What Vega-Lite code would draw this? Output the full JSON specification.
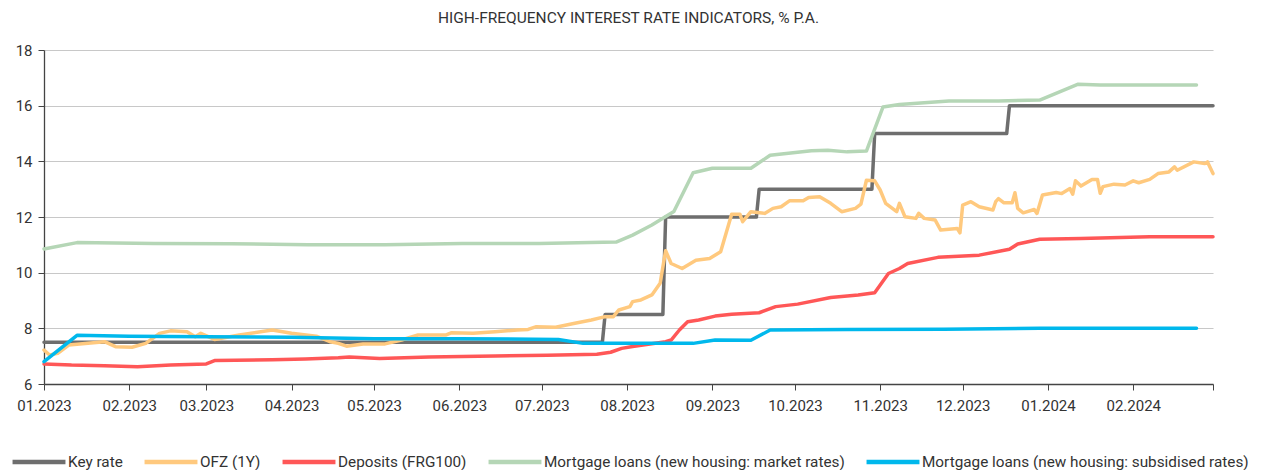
{
  "$schema": "https://vega.github.io/schema/vega-lite/v6.json",
  "width": 1169,
  "height": 334,
  "autosize": {"type": "none"},
  "padding": {"left": 44, "top": 50, "right": 58, "bottom": 86},
  "background": "white",
  "config": {
    "view": {"stroke": null},
    "font": "Roboto"
  },
  "title": {
    "text": "HIGH-FREQUENCY INTEREST RATE INDICATORS, % P.A.",
    "anchor": "middle",
    "fontSize": 15.5,
    "fontWeight": "normal",
    "color": "#333333",
    "font": "Roboto",
    "offset": 17
  },
  "datasets": {
    "rates": [
      {"d": "2023-01-01", "s": "Key rate", "v": 7.5},
      {"d": "2023-07-23", "s": "Key rate", "v": 7.5},
      {"d": "2023-07-24", "s": "Key rate", "v": 8.5},
      {"d": "2023-08-14", "s": "Key rate", "v": 8.5},
      {"d": "2023-08-15", "s": "Key rate", "v": 12},
      {"d": "2023-09-17", "s": "Key rate", "v": 12},
      {"d": "2023-09-18", "s": "Key rate", "v": 13},
      {"d": "2023-10-29", "s": "Key rate", "v": 13},
      {"d": "2023-10-30", "s": "Key rate", "v": 15},
      {"d": "2023-12-17", "s": "Key rate", "v": 15},
      {"d": "2023-12-18", "s": "Key rate", "v": 16},
      {"d": "2024-03-01", "s": "Key rate", "v": 16},

      {"d": "2023-01-01", "s": "OFZ (1Y)", "v": 7.22},
      {"d": "2023-01-03", "s": "OFZ (1Y)", "v": 7.04},
      {"d": "2023-01-06", "s": "OFZ (1Y)", "v": 7.10},
      {"d": "2023-01-10", "s": "OFZ (1Y)", "v": 7.40},
      {"d": "2023-01-17", "s": "OFZ (1Y)", "v": 7.46},
      {"d": "2023-01-23", "s": "OFZ (1Y)", "v": 7.52},
      {"d": "2023-01-27", "s": "OFZ (1Y)", "v": 7.34},
      {"d": "2023-02-02", "s": "OFZ (1Y)", "v": 7.32},
      {"d": "2023-02-07", "s": "OFZ (1Y)", "v": 7.46},
      {"d": "2023-02-12", "s": "OFZ (1Y)", "v": 7.82},
      {"d": "2023-02-16", "s": "OFZ (1Y)", "v": 7.91},
      {"d": "2023-02-22", "s": "OFZ (1Y)", "v": 7.88},
      {"d": "2023-02-25", "s": "OFZ (1Y)", "v": 7.70},
      {"d": "2023-02-27", "s": "OFZ (1Y)", "v": 7.82},
      {"d": "2023-03-04", "s": "OFZ (1Y)", "v": 7.60},
      {"d": "2023-03-13", "s": "OFZ (1Y)", "v": 7.76},
      {"d": "2023-03-25", "s": "OFZ (1Y)", "v": 7.94},
      {"d": "2023-04-01", "s": "OFZ (1Y)", "v": 7.82},
      {"d": "2023-04-10", "s": "OFZ (1Y)", "v": 7.72},
      {"d": "2023-04-15", "s": "OFZ (1Y)", "v": 7.52},
      {"d": "2023-04-18", "s": "OFZ (1Y)", "v": 7.46},
      {"d": "2023-04-21", "s": "OFZ (1Y)", "v": 7.36},
      {"d": "2023-04-27", "s": "OFZ (1Y)", "v": 7.44},
      {"d": "2023-05-05", "s": "OFZ (1Y)", "v": 7.44},
      {"d": "2023-05-11", "s": "OFZ (1Y)", "v": 7.58},
      {"d": "2023-05-17", "s": "OFZ (1Y)", "v": 7.76},
      {"d": "2023-05-27", "s": "OFZ (1Y)", "v": 7.76},
      {"d": "2023-05-29", "s": "OFZ (1Y)", "v": 7.84},
      {"d": "2023-06-06", "s": "OFZ (1Y)", "v": 7.82},
      {"d": "2023-06-14", "s": "OFZ (1Y)", "v": 7.88},
      {"d": "2023-06-22", "s": "OFZ (1Y)", "v": 7.94},
      {"d": "2023-06-26", "s": "OFZ (1Y)", "v": 7.96},
      {"d": "2023-06-29", "s": "OFZ (1Y)", "v": 8.06},
      {"d": "2023-07-06", "s": "OFZ (1Y)", "v": 8.04},
      {"d": "2023-07-13", "s": "OFZ (1Y)", "v": 8.18},
      {"d": "2023-07-19", "s": "OFZ (1Y)", "v": 8.30},
      {"d": "2023-07-24", "s": "OFZ (1Y)", "v": 8.42},
      {"d": "2023-07-27", "s": "OFZ (1Y)", "v": 8.42},
      {"d": "2023-07-29", "s": "OFZ (1Y)", "v": 8.66},
      {"d": "2023-08-02", "s": "OFZ (1Y)", "v": 8.78},
      {"d": "2023-08-03", "s": "OFZ (1Y)", "v": 8.96},
      {"d": "2023-08-06", "s": "OFZ (1Y)", "v": 9.02},
      {"d": "2023-08-10", "s": "OFZ (1Y)", "v": 9.20},
      {"d": "2023-08-13", "s": "OFZ (1Y)", "v": 9.62},
      {"d": "2023-08-15", "s": "OFZ (1Y)", "v": 10.79},
      {"d": "2023-08-17", "s": "OFZ (1Y)", "v": 10.33},
      {"d": "2023-08-21", "s": "OFZ (1Y)", "v": 10.15},
      {"d": "2023-08-26", "s": "OFZ (1Y)", "v": 10.45},
      {"d": "2023-08-31", "s": "OFZ (1Y)", "v": 10.51},
      {"d": "2023-09-04", "s": "OFZ (1Y)", "v": 10.75},
      {"d": "2023-09-08", "s": "OFZ (1Y)", "v": 12.10},
      {"d": "2023-09-11", "s": "OFZ (1Y)", "v": 12.10},
      {"d": "2023-09-12", "s": "OFZ (1Y)", "v": 11.83},
      {"d": "2023-09-15", "s": "OFZ (1Y)", "v": 12.19},
      {"d": "2023-09-20", "s": "OFZ (1Y)", "v": 12.13},
      {"d": "2023-09-23", "s": "OFZ (1Y)", "v": 12.31},
      {"d": "2023-09-26", "s": "OFZ (1Y)", "v": 12.37},
      {"d": "2023-09-29", "s": "OFZ (1Y)", "v": 12.58},
      {"d": "2023-10-04", "s": "OFZ (1Y)", "v": 12.58},
      {"d": "2023-10-06", "s": "OFZ (1Y)", "v": 12.70},
      {"d": "2023-10-10", "s": "OFZ (1Y)", "v": 12.73},
      {"d": "2023-10-14", "s": "OFZ (1Y)", "v": 12.49},
      {"d": "2023-10-18", "s": "OFZ (1Y)", "v": 12.19},
      {"d": "2023-10-23", "s": "OFZ (1Y)", "v": 12.31},
      {"d": "2023-10-25", "s": "OFZ (1Y)", "v": 12.46},
      {"d": "2023-10-27", "s": "OFZ (1Y)", "v": 13.32},
      {"d": "2023-10-30", "s": "OFZ (1Y)", "v": 13.30},
      {"d": "2023-11-01", "s": "OFZ (1Y)", "v": 12.97},
      {"d": "2023-11-03", "s": "OFZ (1Y)", "v": 12.49},
      {"d": "2023-11-07", "s": "OFZ (1Y)", "v": 12.19},
      {"d": "2023-11-08", "s": "OFZ (1Y)", "v": 12.49},
      {"d": "2023-11-10", "s": "OFZ (1Y)", "v": 12.01},
      {"d": "2023-11-14", "s": "OFZ (1Y)", "v": 11.95},
      {"d": "2023-11-15", "s": "OFZ (1Y)", "v": 12.13},
      {"d": "2023-11-17", "s": "OFZ (1Y)", "v": 11.95},
      {"d": "2023-11-21", "s": "OFZ (1Y)", "v": 11.89},
      {"d": "2023-11-23", "s": "OFZ (1Y)", "v": 11.53},
      {"d": "2023-11-29", "s": "OFZ (1Y)", "v": 11.59},
      {"d": "2023-11-30", "s": "OFZ (1Y)", "v": 11.43},
      {"d": "2023-12-01", "s": "OFZ (1Y)", "v": 12.43},
      {"d": "2023-12-04", "s": "OFZ (1Y)", "v": 12.55},
      {"d": "2023-12-07", "s": "OFZ (1Y)", "v": 12.37},
      {"d": "2023-12-12", "s": "OFZ (1Y)", "v": 12.25},
      {"d": "2023-12-13", "s": "OFZ (1Y)", "v": 12.55},
      {"d": "2023-12-14", "s": "OFZ (1Y)", "v": 12.66},
      {"d": "2023-12-16", "s": "OFZ (1Y)", "v": 12.51},
      {"d": "2023-12-19", "s": "OFZ (1Y)", "v": 12.51},
      {"d": "2023-12-20", "s": "OFZ (1Y)", "v": 12.87},
      {"d": "2023-12-21", "s": "OFZ (1Y)", "v": 12.31},
      {"d": "2023-12-23", "s": "OFZ (1Y)", "v": 12.15},
      {"d": "2023-12-27", "s": "OFZ (1Y)", "v": 12.27},
      {"d": "2023-12-28", "s": "OFZ (1Y)", "v": 12.13},
      {"d": "2023-12-30", "s": "OFZ (1Y)", "v": 12.79},
      {"d": "2024-01-04", "s": "OFZ (1Y)", "v": 12.88},
      {"d": "2024-01-06", "s": "OFZ (1Y)", "v": 12.84},
      {"d": "2024-01-09", "s": "OFZ (1Y)", "v": 13.02},
      {"d": "2024-01-10", "s": "OFZ (1Y)", "v": 12.82},
      {"d": "2024-01-11", "s": "OFZ (1Y)", "v": 13.30},
      {"d": "2024-01-13", "s": "OFZ (1Y)", "v": 13.11},
      {"d": "2024-01-17", "s": "OFZ (1Y)", "v": 13.35},
      {"d": "2024-01-19", "s": "OFZ (1Y)", "v": 13.35},
      {"d": "2024-01-20", "s": "OFZ (1Y)", "v": 12.85},
      {"d": "2024-01-21", "s": "OFZ (1Y)", "v": 13.09},
      {"d": "2024-01-25", "s": "OFZ (1Y)", "v": 13.18},
      {"d": "2024-01-29", "s": "OFZ (1Y)", "v": 13.15},
      {"d": "2024-02-01", "s": "OFZ (1Y)", "v": 13.30},
      {"d": "2024-02-03", "s": "OFZ (1Y)", "v": 13.23},
      {"d": "2024-02-07", "s": "OFZ (1Y)", "v": 13.35},
      {"d": "2024-02-10", "s": "OFZ (1Y)", "v": 13.56},
      {"d": "2024-02-14", "s": "OFZ (1Y)", "v": 13.62},
      {"d": "2024-02-16", "s": "OFZ (1Y)", "v": 13.80},
      {"d": "2024-02-17", "s": "OFZ (1Y)", "v": 13.68},
      {"d": "2024-02-23", "s": "OFZ (1Y)", "v": 13.98},
      {"d": "2024-02-27", "s": "OFZ (1Y)", "v": 13.92},
      {"d": "2024-02-28", "s": "OFZ (1Y)", "v": 13.98},
      {"d": "2024-03-01", "s": "OFZ (1Y)", "v": 13.56},

      {"d": "2023-01-01", "s": "Deposits (FRG100)", "v": 6.72},
      {"d": "2023-01-11", "s": "Deposits (FRG100)", "v": 6.68},
      {"d": "2023-01-23", "s": "Deposits (FRG100)", "v": 6.66},
      {"d": "2023-02-04", "s": "Deposits (FRG100)", "v": 6.62},
      {"d": "2023-02-16", "s": "Deposits (FRG100)", "v": 6.68},
      {"d": "2023-03-01", "s": "Deposits (FRG100)", "v": 6.72},
      {"d": "2023-03-04", "s": "Deposits (FRG100)", "v": 6.84},
      {"d": "2023-03-25", "s": "Deposits (FRG100)", "v": 6.87},
      {"d": "2023-04-06", "s": "Deposits (FRG100)", "v": 6.90},
      {"d": "2023-04-18", "s": "Deposits (FRG100)", "v": 6.94},
      {"d": "2023-04-22", "s": "Deposits (FRG100)", "v": 6.97},
      {"d": "2023-05-03", "s": "Deposits (FRG100)", "v": 6.92},
      {"d": "2023-05-21", "s": "Deposits (FRG100)", "v": 6.97},
      {"d": "2023-06-14", "s": "Deposits (FRG100)", "v": 7.01},
      {"d": "2023-07-03", "s": "Deposits (FRG100)", "v": 7.03},
      {"d": "2023-07-21", "s": "Deposits (FRG100)", "v": 7.07},
      {"d": "2023-07-26", "s": "Deposits (FRG100)", "v": 7.14},
      {"d": "2023-07-30", "s": "Deposits (FRG100)", "v": 7.28},
      {"d": "2023-08-03", "s": "Deposits (FRG100)", "v": 7.35},
      {"d": "2023-08-15", "s": "Deposits (FRG100)", "v": 7.52},
      {"d": "2023-08-17", "s": "Deposits (FRG100)", "v": 7.58},
      {"d": "2023-08-20", "s": "Deposits (FRG100)", "v": 7.94},
      {"d": "2023-08-23", "s": "Deposits (FRG100)", "v": 8.24},
      {"d": "2023-08-27", "s": "Deposits (FRG100)", "v": 8.30},
      {"d": "2023-09-02", "s": "Deposits (FRG100)", "v": 8.44},
      {"d": "2023-09-08", "s": "Deposits (FRG100)", "v": 8.51},
      {"d": "2023-09-18", "s": "Deposits (FRG100)", "v": 8.56},
      {"d": "2023-09-24", "s": "Deposits (FRG100)", "v": 8.78},
      {"d": "2023-10-02", "s": "Deposits (FRG100)", "v": 8.87},
      {"d": "2023-10-14", "s": "Deposits (FRG100)", "v": 9.11},
      {"d": "2023-10-24", "s": "Deposits (FRG100)", "v": 9.20},
      {"d": "2023-10-30", "s": "Deposits (FRG100)", "v": 9.28},
      {"d": "2023-11-04", "s": "Deposits (FRG100)", "v": 9.97},
      {"d": "2023-11-08", "s": "Deposits (FRG100)", "v": 10.15},
      {"d": "2023-11-11", "s": "Deposits (FRG100)", "v": 10.33},
      {"d": "2023-11-22", "s": "Deposits (FRG100)", "v": 10.55},
      {"d": "2023-12-07", "s": "Deposits (FRG100)", "v": 10.63},
      {"d": "2023-12-18", "s": "Deposits (FRG100)", "v": 10.84},
      {"d": "2023-12-21", "s": "Deposits (FRG100)", "v": 11.03},
      {"d": "2023-12-29", "s": "Deposits (FRG100)", "v": 11.20},
      {"d": "2024-01-13", "s": "Deposits (FRG100)", "v": 11.23},
      {"d": "2024-02-07", "s": "Deposits (FRG100)", "v": 11.29},
      {"d": "2024-03-01", "s": "Deposits (FRG100)", "v": 11.29},

      {"d": "2023-01-01", "s": "Mortgage loans (new housing: market rates)", "v": 10.85},
      {"d": "2023-01-13", "s": "Mortgage loans (new housing: market rates)", "v": 11.08},
      {"d": "2023-02-10", "s": "Mortgage loans (new housing: market rates)", "v": 11.05},
      {"d": "2023-03-10", "s": "Mortgage loans (new housing: market rates)", "v": 11.04},
      {"d": "2023-04-07", "s": "Mortgage loans (new housing: market rates)", "v": 11.0},
      {"d": "2023-05-05", "s": "Mortgage loans (new housing: market rates)", "v": 11.0},
      {"d": "2023-06-02", "s": "Mortgage loans (new housing: market rates)", "v": 11.05},
      {"d": "2023-06-30", "s": "Mortgage loans (new housing: market rates)", "v": 11.05},
      {"d": "2023-07-28", "s": "Mortgage loans (new housing: market rates)", "v": 11.1},
      {"d": "2023-08-03", "s": "Mortgage loans (new housing: market rates)", "v": 11.35},
      {"d": "2023-08-10", "s": "Mortgage loans (new housing: market rates)", "v": 11.71},
      {"d": "2023-08-18", "s": "Mortgage loans (new housing: market rates)", "v": 12.2},
      {"d": "2023-08-25", "s": "Mortgage loans (new housing: market rates)", "v": 13.59},
      {"d": "2023-09-01", "s": "Mortgage loans (new housing: market rates)", "v": 13.75},
      {"d": "2023-09-15", "s": "Mortgage loans (new housing: market rates)", "v": 13.75},
      {"d": "2023-09-22", "s": "Mortgage loans (new housing: market rates)", "v": 14.22},
      {"d": "2023-10-07", "s": "Mortgage loans (new housing: market rates)", "v": 14.38},
      {"d": "2023-10-13", "s": "Mortgage loans (new housing: market rates)", "v": 14.4},
      {"d": "2023-10-20", "s": "Mortgage loans (new housing: market rates)", "v": 14.34},
      {"d": "2023-10-27", "s": "Mortgage loans (new housing: market rates)", "v": 14.37},
      {"d": "2023-11-02", "s": "Mortgage loans (new housing: market rates)", "v": 15.95},
      {"d": "2023-11-08", "s": "Mortgage loans (new housing: market rates)", "v": 16.04},
      {"d": "2023-11-26", "s": "Mortgage loans (new housing: market rates)", "v": 16.17},
      {"d": "2023-12-14", "s": "Mortgage loans (new housing: market rates)", "v": 16.17},
      {"d": "2023-12-29", "s": "Mortgage loans (new housing: market rates)", "v": 16.2},
      {"d": "2024-01-12", "s": "Mortgage loans (new housing: market rates)", "v": 16.77},
      {"d": "2024-01-20", "s": "Mortgage loans (new housing: market rates)", "v": 16.74},
      {"d": "2024-02-24", "s": "Mortgage loans (new housing: market rates)", "v": 16.74},

      {"d": "2023-01-01", "s": "Mortgage loans (new housing: subsidised rates)", "v": 6.8},
      {"d": "2023-01-13", "s": "Mortgage loans (new housing: subsidised rates)", "v": 7.75},
      {"d": "2023-02-01", "s": "Mortgage loans (new housing: subsidised rates)", "v": 7.72},
      {"d": "2023-03-01", "s": "Mortgage loans (new housing: subsidised rates)", "v": 7.7},
      {"d": "2023-04-01", "s": "Mortgage loans (new housing: subsidised rates)", "v": 7.68},
      {"d": "2023-05-01", "s": "Mortgage loans (new housing: subsidised rates)", "v": 7.63},
      {"d": "2023-06-01", "s": "Mortgage loans (new housing: subsidised rates)", "v": 7.63},
      {"d": "2023-07-07", "s": "Mortgage loans (new housing: subsidised rates)", "v": 7.6},
      {"d": "2023-07-16", "s": "Mortgage loans (new housing: subsidised rates)", "v": 7.46},
      {"d": "2023-08-25", "s": "Mortgage loans (new housing: subsidised rates)", "v": 7.46},
      {"d": "2023-09-02", "s": "Mortgage loans (new housing: subsidised rates)", "v": 7.58},
      {"d": "2023-09-15", "s": "Mortgage loans (new housing: subsidised rates)", "v": 7.57},
      {"d": "2023-09-22", "s": "Mortgage loans (new housing: subsidised rates)", "v": 7.94},
      {"d": "2023-10-20", "s": "Mortgage loans (new housing: subsidised rates)", "v": 7.96},
      {"d": "2023-11-24", "s": "Mortgage loans (new housing: subsidised rates)", "v": 7.97},
      {"d": "2023-12-29", "s": "Mortgage loans (new housing: subsidised rates)", "v": 8.0},
      {"d": "2024-01-26", "s": "Mortgage loans (new housing: subsidised rates)", "v": 8.0},
      {"d": "2024-02-24", "s": "Mortgage loans (new housing: subsidised rates)", "v": 8.0}
    ]
  },
  "data": {"name": "rates"},
  "mark": {"type": "line", "strokeWidth": 3.5, "strokeJoin": "round", "strokeCap": "round"},
  "encoding": {
    "x": {
      "field": "d",
      "type": "temporal",
      "scale": {
        "type": "utc",
        "domain": [
          {"year": 2023, "month": 1, "date": 1, "utc": true},
          {"year": 2024, "month": 3, "date": 1, "utc": true}
        ],
        "nice": false
      },
      "axis": {
        "title": null,
        "values": [
          {"year": 2023, "month": 1, "date": 1, "utc": true},
          {"year": 2023, "month": 2, "date": 1, "utc": true},
          {"year": 2023, "month": 3, "date": 1, "utc": true},
          {"year": 2023, "month": 4, "date": 1, "utc": true},
          {"year": 2023, "month": 5, "date": 1, "utc": true},
          {"year": 2023, "month": 6, "date": 1, "utc": true},
          {"year": 2023, "month": 7, "date": 1, "utc": true},
          {"year": 2023, "month": 8, "date": 1, "utc": true},
          {"year": 2023, "month": 9, "date": 1, "utc": true},
          {"year": 2023, "month": 10, "date": 1, "utc": true},
          {"year": 2023, "month": 11, "date": 1, "utc": true},
          {"year": 2023, "month": 12, "date": 1, "utc": true},
          {"year": 2024, "month": 1, "date": 1, "utc": true},
          {"year": 2024, "month": 2, "date": 1, "utc": true},
          {"year": 2024, "month": 3, "date": 1, "utc": true}
        ],
        "labelExpr": "utcFormat(datum.value, '%m.%Y') == '03.2024' ? '' : utcFormat(datum.value, '%m.%Y')",
        "grid": false,
        "domainColor": "#444444",
        "domainWidth": 1.3,
        "tickColor": "#444444",
        "tickSize": 6,
        "labelFont": "Roboto",
        "labelFontSize": 15,
        "labelColor": "#333333",
        "labelPadding": 8,
        "labelFlush": false,
        "labelOverlap": false
      }
    },
    "y": {
      "field": "v",
      "type": "quantitative",
      "scale": {"domain": [6, 18], "nice": false, "zero": false},
      "axis": {
        "title": null,
        "values": [6, 8, 10, 12, 14, 16, 18],
        "grid": true,
        "gridColor": "#c8c8c8",
        "gridWidth": 1.2,
        "domainColor": "#444444",
        "domainWidth": 1.3,
        "tickColor": "#444444",
        "tickSize": 6,
        "labelFont": "Roboto",
        "labelFontSize": 15,
        "labelColor": "#333333",
        "labelPadding": 6
      }
    },
    "color": {
      "field": "s",
      "type": "nominal",
      "scale": {
        "domain": [
          "Key rate",
          "OFZ (1Y)",
          "Deposits (FRG100)",
          "Mortgage loans (new housing: market rates)",
          "Mortgage loans (new housing: subsidised rates)"
        ],
        "range": ["#6e6e6e", "#ffc97e", "#ff5757", "#b5d6b6", "#00b8ec"]
      },
      "legend": {
        "title": null,
        "orient": "none",
        "legendX": -34,
        "legendY": 383,
        "direction": "horizontal",
        "symbolType": "stroke",
        "symbolSize": 2800,
        "symbolStrokeWidth": 4.5,
        "labelFont": "Roboto",
        "labelFontSize": 15.3,
        "labelColor": "#333333",
        "labelLimit": 500,
        "labelOffset": 0,
        "columnPadding": 12
      }
    }
  }
}
